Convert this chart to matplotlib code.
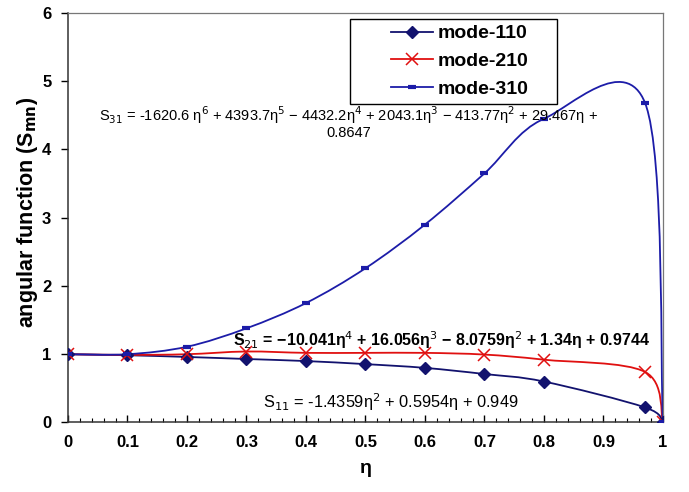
import numpy as np
import matplotlib
matplotlib.use("Agg")
import matplotlib.pyplot as plt
from matplotlib.path import Path
from matplotlib.patches import PathPatch, Rectangle
from matplotlib.lines import Line2D

# ---- data ----
eta = [0.0, 0.1, 0.2, 0.3, 0.4, 0.5, 0.6, 0.7, 0.8, 0.97, 1.0]
s110 = [1.0, 0.985, 0.96, 0.93, 0.90, 0.855, 0.80, 0.71, 0.60, 0.22, 0.0]
s210 = [1.0, 0.99, 1.0, 1.04, 1.02, 1.02, 1.02, 0.995, 0.92, 0.74, 0.0]
s310 = [1.0, 1.0, 1.11, 1.38, 1.75, 2.26, 2.90, 3.65, 4.45, 4.68, 0.0]
labels = ["mode-110", "mode-210", "mode-310"]
xticks = [0, 0.1, 0.2, 0.3, 0.4, 0.5, 0.6, 0.7, 0.8, 0.9, 1]
xticklabels = ["0", "0.1", "0.2", "0.3", "0.4", "0.5", "0.6", "0.7", "0.8", "0.9", "1"]
yticks = [0, 1, 2, 3, 4, 5, 6]

eq31 = ("S$_{31}$ = -1620.6 η$^6$ + 4393.7η$^5$ − 4432.2η$^4$ + 2043.1η$^3$ − 413.77η$^2$ + 29.467η +\n"
        "0.8647")
eq21 = "S$_{21}$ = −10.041η$^4$ + 16.056η$^3$ − 8.0759η$^2$ + 1.34η + 0.9744"
eq11 = "S$_{11}$ = -1.4359η$^2$ + 0.5954η + 0.949"

plt.rcParams['font.family'] = ['Liberation Sans', 'DejaVu Sans']
plt.rcParams['mathtext.fontset'] = 'dejavusans'

c110 = "#12126e"
c210 = "#e01010"
c310 = "#1c1ca8"


def smooth_path(xs, ys):
    pts = np.column_stack([xs, ys]).astype(float)
    n = len(pts)
    verts = [pts[0]]
    codes = [Path.MOVETO]
    for i in range(n - 1):
        p0 = pts[i - 1] if i > 0 else pts[i]
        p1 = pts[i]
        p2 = pts[i + 1]
        p3 = pts[i + 2] if i + 2 < n else pts[i + 1]
        verts += [p1 + (p2 - p0) / 6.0, p2 - (p3 - p1) / 6.0, p2]
        codes += [Path.CURVE4] * 3
    return Path(verts, codes)


fig = plt.figure(figsize=(6.89, 4.92), dpi=100)
ax = fig.add_axes([0.0987, 0.1413, 0.8635, 0.8323])

series = [
    (s110, c110, dict(marker='D', ms=6.5, mfc=c110, mec=c110, mew=1)),
    (s210, c210, dict(marker='x', ms=8, mfc=c210, mec=c210, mew=1.1)),
    (s310, c310, dict(marker='_', ms=6, mfc=c310, mec=c310, mew=3)),
]
handles = []
for (vals, col, mk), lab in zip(series, labels):
    ax.add_patch(PathPatch(smooth_path(eta, vals), facecolor='none',
                           edgecolor=col, lw=1.3, zorder=2))
    ax.plot(eta, vals, linestyle='none', zorder=3, **mk)
    handles.append(Line2D([], [], color=col, lw=1.3, **mk))

ax.set_xlim(0, 1)
ax.set_ylim(0, 6)
ax.set_xticks(xticks)
ax.set_xticklabels(xticklabels)
ax.set_xticks(np.arange(0, 1.0001, 0.02), minor=True)
ax.set_yticks(yticks)
ax.tick_params(axis='x', which='major', direction='in', length=5, width=1,
               labelsize=12, pad=9)
ax.tick_params(axis='x', which='minor', direction='in', length=3, width=0.8)
ax.tick_params(axis='y', which='major', direction='out', length=5, width=1,
               labelsize=12, pad=7)
for lab in ax.get_xticklabels() + ax.get_yticklabels():
    lab.set_fontweight('bold')

for s in ['left', 'bottom']:
    ax.spines[s].set_color('#333333')
    ax.spines[s].set_linewidth(1.1)
for s in ['top', 'right']:
    ax.spines[s].set_color('#777777')
    ax.spines[s].set_linewidth(0.9)

ax.set_xlabel("η", fontsize=14, fontweight='bold', labelpad=7)
ax.set_ylabel("angular function (S$_{\\mathbf{mn}}$)", fontsize=15.5,
              fontweight='bold')
ax.yaxis.set_label_coords(-0.047, 0.513)

ax.text(0.472, 4.40, eq31, ha='center', va='center', multialignment='center',
        fontsize=10.5, color='black', zorder=4, linespacing=1.0)
ax.text(0.627, 1.21, eq21, ha='center', va='center', fontsize=11.5,
        fontweight='bold', color='black', zorder=4)
ax.text(0.542, 0.30, eq11, ha='center', va='center', fontsize=11.8,
        color='black', zorder=4)

# legend box (Excel style, with wide left margin)
ax.add_patch(Rectangle((0.474, 0.778), 0.348, 0.2076, transform=ax.transAxes,
                       facecolor='white', edgecolor='black', lw=1.0,
                       zorder=5, clip_on=False))
leg = ax.legend(handles, labels, loc='upper left', bbox_to_anchor=(0.543, 0.971),
                frameon=False, handlelength=2.16, labelspacing=0.51,
                borderpad=0, handletextpad=0.25, borderaxespad=0,
                prop=dict(family=['Liberation Sans', 'DejaVu Sans'],
                          weight='bold', size=14))
leg.set_zorder(6)

fig.savefig("out.png", dpi=100)
